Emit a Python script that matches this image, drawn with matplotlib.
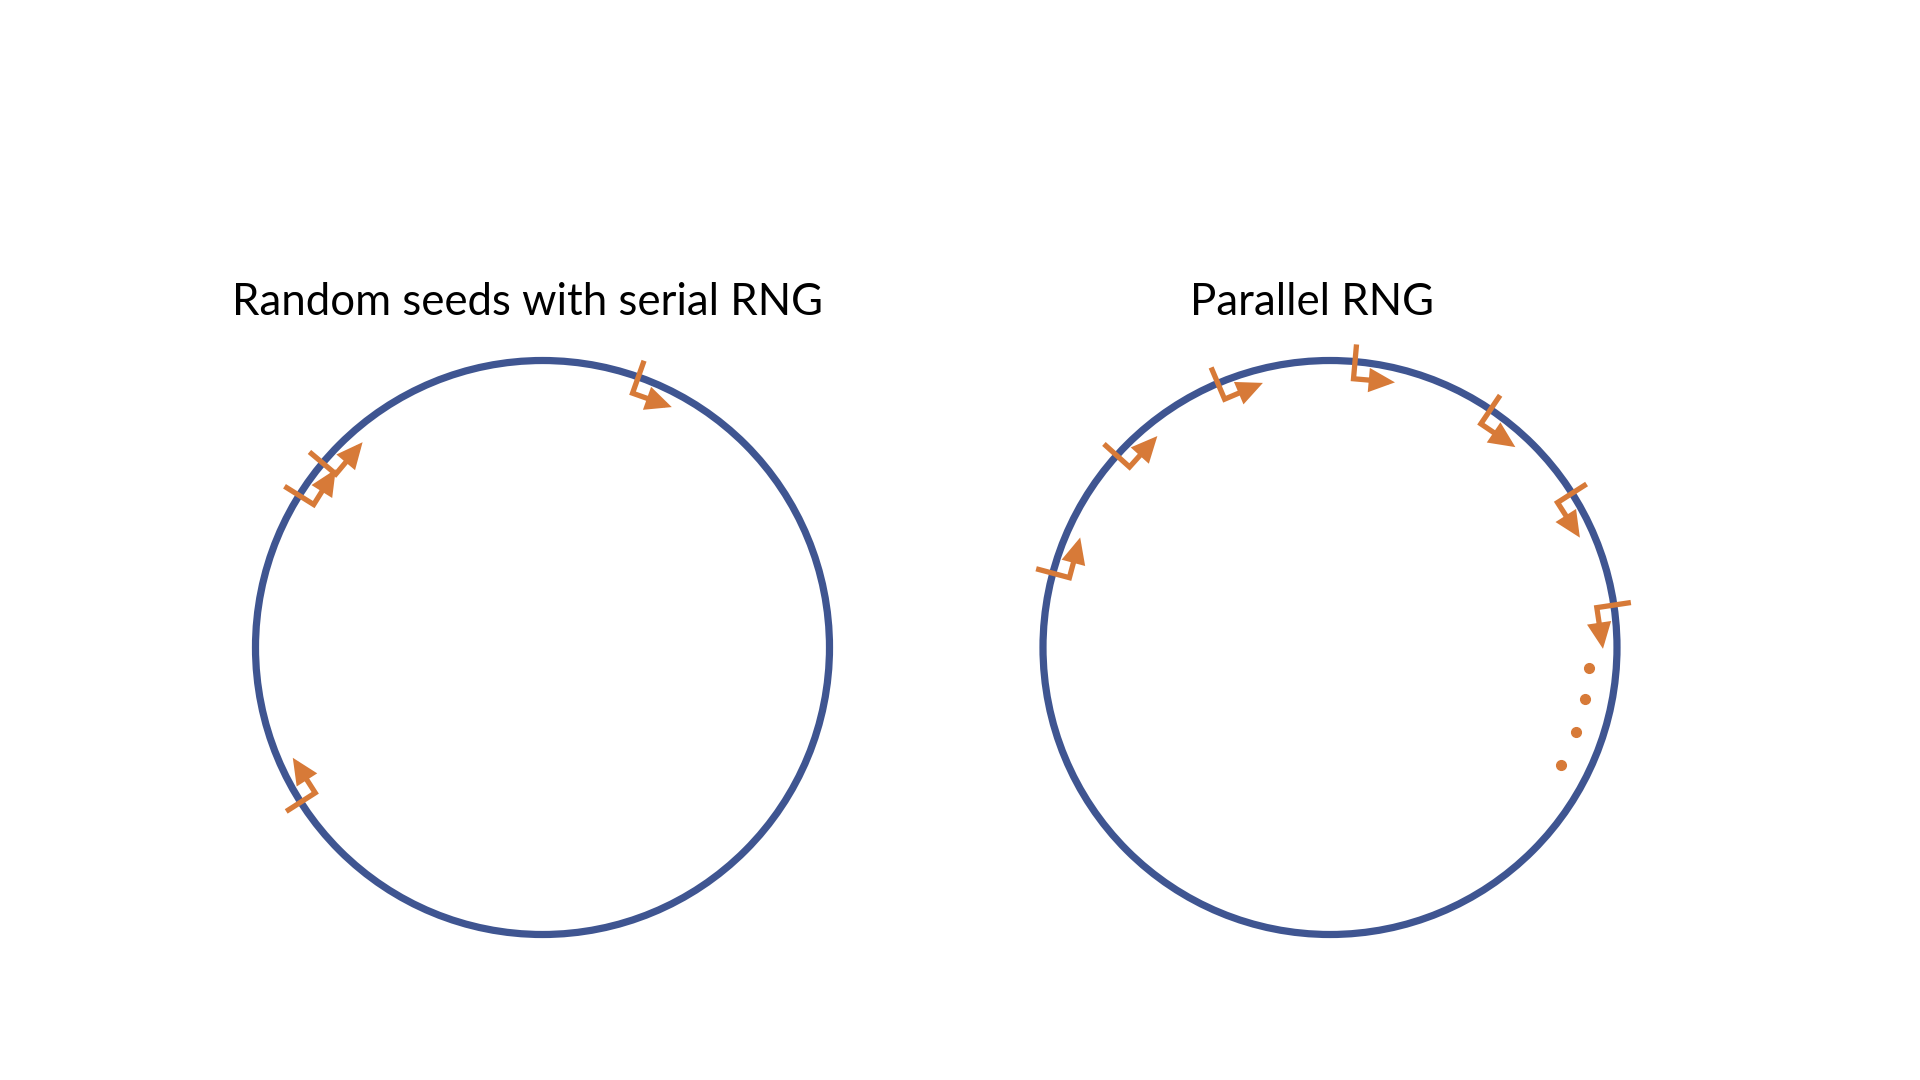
import numpy as np
import matplotlib

matplotlib.use("Agg")
import matplotlib.pyplot as plt
from matplotlib.patches import Circle, FancyArrowPatch
from matplotlib.path import Path

BLUE = "#3F5591"
ORANGE = "#D77A38"

# seed positions on the ring, degrees (counter-clockwise from 3 o'clock)
serial_seeds = [70.5, 140.0, 148.0, 212.6]
parallel_seeds = [165.0, 138.0, 113.0, 85.0, 56.0, 32.5, 8.5]
parallel_dots = [-4.5, -11.5, -19.0, -27.0]
titles = ["Random seeds with serial RNG", "Parallel RNG"]

# layout (pixel space of a 1920x1080 canvas, y up)
R = 287
centers = [(542.5, 432.5), (1330, 432.5)]
title_xy = [(527, 765), (1312, 765)]


def polar(c, r, deg):
    t = np.deg2rad(deg)
    return np.array([c[0] + r * np.cos(t), c[1] + r * np.sin(t)])


def seed_arrow(ax, c, deg):
    p0 = polar(c, 1.06 * R, deg)
    p1 = polar(c, 0.94 * R, deg)
    t = np.deg2rad(deg)
    tang = np.array([np.sin(t), -np.cos(t)])  # clockwise
    p2 = p1 + tang * 0.145 * R
    path = Path([p0, p1, p2])
    arr = FancyArrowPatch(path=path, arrowstyle="-|>,head_length=1.25,head_width=0.58",
                          mutation_scale=10, color=ORANGE, lw=3.8,
                          joinstyle="miter", capstyle="butt",
                          shrinkA=0, shrinkB=0, zorder=3)
    ax.add_patch(arr)


fig = plt.figure(figsize=(19.2, 10.8), dpi=100)
ax = fig.add_axes([0, 0, 1, 1])
ax.set_xlim(0, 1920)
ax.set_ylim(0, 1080)
ax.set_aspect("equal")
ax.axis("off")

for c, (tx, ty), title in zip(centers, title_xy, titles):
    ax.add_patch(Circle(c, R, fill=False, edgecolor=BLUE, lw=5.2, zorder=2))
    ax.text(tx, ty, title, ha="center", va="baseline", fontsize=31.5,
            family=["Lato", "DejaVu Sans"], color="black")

for a in serial_seeds:
    seed_arrow(ax, centers[0], a)
for a in parallel_seeds:
    seed_arrow(ax, centers[1], a)

dots = np.array([polar(centers[1], 0.905 * R, a) for a in parallel_dots])
ax.plot(dots[:, 0], dots[:, 1], "o", color=ORANGE, ms=7, ls="none", zorder=3)

fig.savefig("out.png", dpi=100)
